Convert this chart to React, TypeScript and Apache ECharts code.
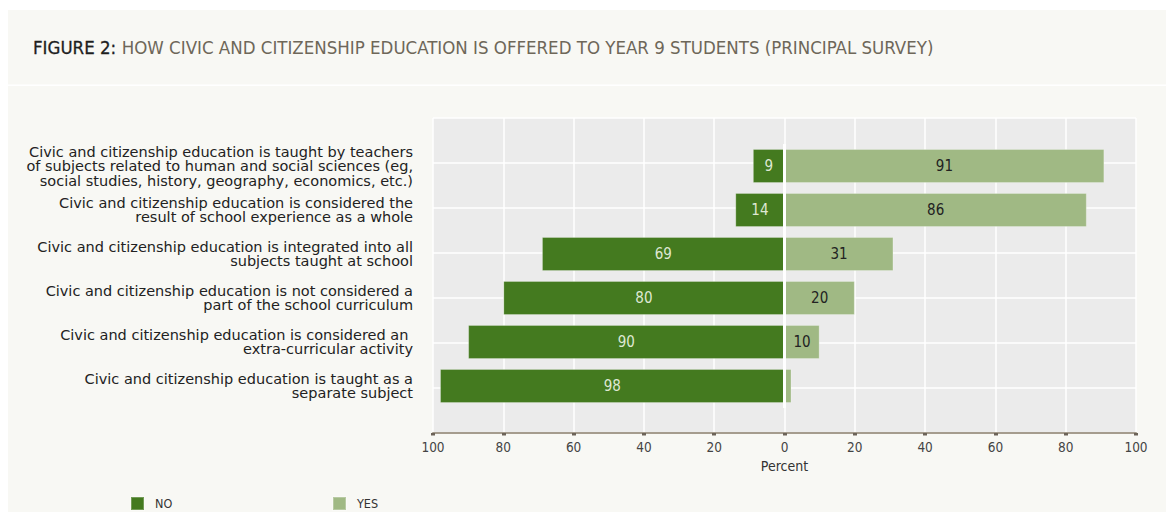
import React, { useEffect, useRef } from "react";
import * as echarts from "echarts";

const categories = [
  "Civic and citizenship education is taught as a\nseparate subject",
  "Civic and citizenship education is considered an \nextra-curricular activity",
  "Civic and citizenship education is not considered a\npart of the school curriculum",
  "Civic and citizenship education is integrated into all\nsubjects taught at school",
  "Civic and citizenship education is considered the\nresult of school experience as a whole",
  "Civic and citizenship education is taught by teachers\nof subjects related to human and social sciences (eg,\nsocial studies, history, geography, economics, etc.)",
];
const noValues = [98, 90, 80, 69, 14, 9];
const yesValues = [2, 10, 20, 31, 86, 91];
const seriesNames = ["NO", "YES"];
const titleBold = "FIGURE 2:";
const titleRest = "HOW CIVIC AND CITIZENSHIP EDUCATION IS OFFERED TO YEAR 9 STUDENTS (PRINCIPAL SURVEY)";
const axisName = "Percent";

const FONT = "'DejaVu Sans Condensed', 'DejaVu Sans', sans-serif";
const LABEL_FONT = "'DejaVu Sans', sans-serif";
const DARK = "#447a1f";
const LIGHT = "#a0b984";

export default function App() {
  const ref = useRef<HTMLDivElement>(null);
  useEffect(() => {
    if (!ref.current) return;
    const chart = echarts.init(ref.current, undefined, { renderer: "svg" });
    chart.setOption({
      animation: false,
      textStyle: { fontFamily: FONT },
      title: {
        text: `{b|${titleBold}} {n|${titleRest}}`,
        left: 25,
        top: 29,
        padding: 0,
        textStyle: {
          rich: {
            b: { fontFamily: FONT, fontSize: 18.5, fontWeight: "normal", color: "#1e1e1e", lineHeight: 20, textBorderColor: "#1e1e1e", textBorderWidth: 0.3 },
            n: { fontFamily: FONT, fontSize: 18.5, fontWeight: "normal", color: "#6e6759", lineHeight: 20 },
          },
        },
      },
      graphic: [
        { type: "rect", shape: { x: 0, y: 0, width: 1158, height: 2 }, style: { fill: "#ffffff" }, silent: true },
        { type: "rect", shape: { x: 0, y: 76.5, width: 1158, height: 1.5 }, style: { fill: "#ffffff" }, silent: true },
      ],
      legend: [
        {
          data: [seriesNames[0]],
          left: 122,
          top: 488,
          padding: 0,
          itemWidth: 13,
          itemHeight: 13,
          icon: "rect",
          textStyle: { fontFamily: FONT, fontSize: 12.5, color: "#333333", padding: [0, 0, 0, 6] },
        },
        {
          data: [seriesNames[1]],
          left: 324,
          top: 488,
          padding: 0,
          itemWidth: 13,
          itemHeight: 13,
          icon: "rect",
          textStyle: { fontFamily: FONT, fontSize: 12.5, color: "#333333", padding: [0, 0, 0, 6] },
        },
      ],
      grid: [
        { left: 425, top: 110, width: 703, height: 315, show: true, backgroundColor: "#ebebeb", borderWidth: 0 },
        { left: 425, top: 136, width: 703, height: 264, show: false },
      ],
      xAxis: [
        {
          type: "value",
          gridIndex: 0,
          min: -100,
          max: 100,
          interval: 20,
          axisLine: { show: true, onZero: false, lineStyle: { color: "#a59c8e", width: 2 } },
          axisTick: { show: true, length: 2.5, lineStyle: { color: "#6c6358", width: 4 } },
          axisLabel: {
            formatter: (v: number) => String(Math.abs(v)),
            color: "#444444",
            fontSize: 13.5,
            fontFamily: FONT,
            margin: 7,
          },
          splitLine: { show: true, lineStyle: { color: "#ffffff", width: 1.5 } },
          name: axisName,
          nameLocation: "middle",
          nameGap: 26,
          nameTextStyle: { fontFamily: FONT, fontSize: 14, color: "#333333" },
        },
        { type: "value", gridIndex: 1, min: -100, max: 100, show: false },
      ],
      yAxis: [
        {
          type: "value",
          gridIndex: 0,
          min: -1,
          max: 6,
          interval: 1,
          axisLine: { show: false },
          axisTick: { show: false },
          axisLabel: { show: false },
          splitLine: { show: true, lineStyle: { color: "#ffffff", width: 1.5 } },
        },
        {
          type: "category",
          gridIndex: 1,
          data: categories,
          axisLine: { show: false },
          axisTick: { show: false },
          splitLine: { show: false },
          axisLabel: {
            color: "#222222",
            fontSize: 14.5,
            lineHeight: 14.5,
            fontFamily: LABEL_FONT,
            margin: 20,
            align: "right",
          },
        },
      ],
      series: [
        {
          name: seriesNames[0],
          type: "bar",
          xAxisIndex: 1,
          yAxisIndex: 1,
          stack: "total",
          barWidth: 34,
          data: noValues.map((v) => -v),
          itemStyle: { color: DARK, borderColor: "rgba(255,255,255,0.25)", borderWidth: 1 },
          label: {
            show: true,
            position: "inside",
            formatter: (p: any) => String(Math.abs(p.value)),
            color: "#dfe8d3",
            fontSize: 15,
            fontFamily: FONT,
          },
        },
        {
          name: seriesNames[1],
          type: "bar",
          xAxisIndex: 1,
          yAxisIndex: 1,
          stack: "total",
          barWidth: 34,
          data: yesValues,
          itemStyle: { color: LIGHT, borderColor: "rgba(255,255,255,0.25)", borderWidth: 1 },
          label: {
            show: true,
            position: "inside",
            formatter: (p: any) => (Math.abs(p.value) >= 5 ? String(p.value) : ""),
            color: "#222222",
            fontSize: 15,
            fontFamily: FONT,
          },
          markLine: {
            silent: true,
            symbol: "none",
            label: { show: false },
            lineStyle: { color: "#ffffff", width: 3, type: "solid" },
            data: [{ xAxis: 0 }],
          },
        },
      ],
    });
    return () => chart.dispose();
  }, []);
  return <div ref={ref} style={{ width: 1158, height: 504, background: "#f8f8f4" }} />;
}
